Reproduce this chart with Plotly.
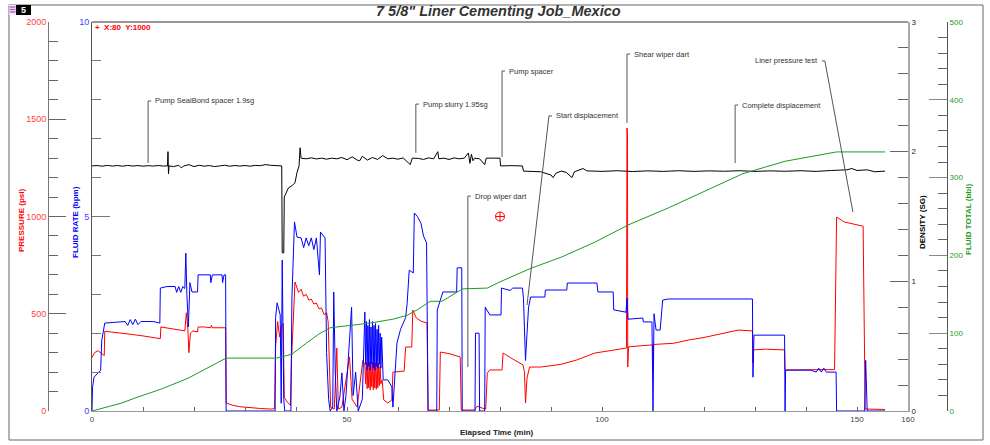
import plotly.graph_objects as go

W, H = 990, 445

# ---------------- data ----------------
pressure_t = ([0.0, 0.5, 1.2, 2.0, 2.4, 2.5, 4.0, 6.0, 8.0, 10.0, 12.0, 13.4, 13.5, 15.0, 16.5, 18.2, 18.5, 18.8,
               19.0, 19.3, 19.8, 20.7, 20.8, 22.0, 23.3, 23.4, 23.6, 26.2, 26.3, 27.5, 29.0, 31.0, 33.0, 35.0,
               35.8, 36.0, 36.4, 36.8, 37.2, 37.5, 37.7, 38.3, 38.9, 39.1, 39.4, 39.8, 40.5, 41.0, 41.5, 42.0,
               42.5, 43.0, 43.5, 44.0, 44.5, 45.0, 45.5, 46.0, 46.3, 46.6, 46.8, 47.5, 48.0, 48.3, 49.0, 49.8,
               50.5, 51.0, 52.0, 52.7, 53.1]
              + [53.5, 53.65, 53.8, 53.95, 54.1, 54.25, 54.4, 54.55, 54.7, 54.85, 55.0, 55.15, 55.3, 55.45,
                 55.6, 55.75, 55.9, 56.05, 56.2, 56.35, 56.5, 56.65, 56.9, 57.2]
              + [58.0, 58.8, 59.0, 61.2, 61.5, 62.7, 62.9, 63.6, 64.5, 65.7, 65.9, 68.1, 68.3, 70.0,
                 72.2, 72.4, 75.0, 75.5, 76.5, 77.2, 77.5, 78.0, 80.4, 80.6, 82.0, 83.5, 84.5, 84.8, 85.0, 85.3,
                 85.8, 88.0, 90.0, 92.0, 95.0, 98.6, 102.0, 104.8, 104.9, 105.0, 105.05, 105.2, 108.0, 109.9,
                 110.0, 110.1, 114.0, 117.0, 120.0, 123.0, 126.7, 129.5, 129.6, 129.7, 132.0, 135.8, 135.9,
                 140.0, 145.6, 146.0, 147.5, 149.5, 151.2, 151.6, 155.5])
pressure_psi = ([275, 300, 310, 295, 285, 410, 406, 400, 393, 386, 378, 372, 432, 426, 420, 412, 505, 420,
                 300, 400, 412, 406, 432, 432, 428, 440, 428, 428, 42, 30, 22, 16, 13, 10,
                 12, 330, 460, 380, 440, 450, 70, 45, 30, 250, 470, 663, 610, 625, 590, 600,
                 570, 575, 550, 555, 525, 530, 495, 505, 460, 200, 20, 10, 324, 10, 20, 160,
                 278, 60, 20, 175, 260]
                + [237, 140, 250, 115, 245, 120, 252, 108, 240, 125, 250, 110, 240, 118,
                   248, 112, 236, 120, 245, 130, 230, 140, 160, 57]
                + [41, 57, 200, 205, 329, 329, 519, 478, 462, 452, 5, 5, 303, 295,
                   278, 5, 5, 25, 15, 10, 195, 211, 211, 298, 275, 250, 237, 200, 41, 170,
                   226, 226, 232, 240, 262, 298, 312, 324, 1455, 1420, 226, 330, 336, 340,
                   250, 342, 348, 365, 378, 395, 416, 412, 247, 314, 318, 314, 211,
                   212, 213, 997, 972, 960, 950, 10, 8])

rate_t = ([0.0, 0.1, 0.4, 1.7, 1.9, 2.2, 2.5, 6.5, 7.0, 7.5, 8.0, 8.5, 9.0, 9.6, 12.0, 13.3, 13.4, 14.7,
           16.3, 16.6, 17.0, 17.4, 17.8, 18.2, 18.4, 18.6, 18.9, 19.2, 19.6, 20.7, 20.8, 23.2, 23.3, 23.6,
           25.5, 25.6, 25.9, 26.2, 26.3, 35.9, 36.0, 36.3, 36.9, 37.1, 37.3, 37.6, 37.8, 39.0, 39.2, 39.7,
           40.2, 41.0, 41.5, 42.0, 42.5, 43.0, 43.5, 44.0, 44.6, 44.8, 45.3, 45.7, 46.0, 46.4, 46.7, 47.2,
           47.4, 47.7, 48.0, 48.6, 49.0, 49.4, 49.8, 50.9, 51.2, 51.7, 52.2, 53.0]
          + [53.5, 53.65, 53.8, 53.95, 54.1, 54.25, 54.4, 54.55, 54.7, 54.85, 55.0, 55.15, 55.3, 55.45,
             55.6, 55.75, 55.9, 56.05, 56.2, 56.35, 56.5, 56.65, 56.8, 57.1]
          + [58.0, 58.8, 59.0, 59.8, 60.5, 61.0, 61.5, 61.8,
             62.2, 63.0, 63.2, 63.8, 64.5, 65.0, 65.6, 65.9, 67.6, 67.7, 68.8, 71.5, 71.6, 72.5, 72.6, 75.1,
             75.2, 75.9, 76.0, 77.0, 77.1, 78.0, 80.2, 80.3, 82.0, 82.5, 84.4, 84.6, 85.0, 85.3, 85.6, 86.0,
             88.8, 88.9, 93.1, 93.2, 99.0, 99.2, 102.2, 102.3, 104.7, 104.9, 105.1, 108.0, 108.1, 109.8,
             110.0, 110.2, 110.6, 111.4, 111.7, 111.9, 113.0, 129.5, 129.6, 129.8, 135.8, 135.9, 136.0,
             141.0, 142.0, 142.5, 143.0, 143.5, 144.0, 145.9, 146.0, 151.5, 151.7, 152.0, 155.5])
rate_bpm = ([0, 0.6, 0.87, 1.05, 1.8, 2.0, 2.26, 2.3, 2.2, 2.35, 2.22, 2.36, 2.22, 2.3, 2.3, 2.26, 3.16, 3.2,
             3.2, 3.05, 3.2, 3.05, 3.2, 3.15, 4.06, 3.0, 2.16, 3.3, 3.06, 3.06, 3.5, 3.5, 3.3, 3.5,
             3.5, 3.3, 3.5, 3.5, 0, 0, 2.4, 2.78, 2.47, 0.2, 3.88, 0.3, 0, 0, 2.9, 4.86,
             4.47, 4.45, 4.2, 4.45, 4.25, 4.45, 4.15, 4.45, 3.5, 4.6, 4.5, 4.45, 1.5, 0.3, 0, 0.1,
             3.06, 1.0, 0, 0.36, 0.98, 0, 0.4, 2.67, 0.4, 1.0, 0, 0.3]
            + [2.54, 1.2, 2.3, 1.05, 2.2, 1.15, 2.35, 1.05, 2.16, 1.2, 2.3, 1.1, 2.2, 1.05,
               2.25, 1.15, 2.1, 1.1, 2.2, 1.2, 2.0, 1.1, 1.9, 0.8]
            + [0.8, 0.62, 0.1, 1.75, 2.1, 2.26, 2.4, 2.78,
               3.62, 3.55, 5.09, 5.0, 4.83, 4.5, 4.32, 0, 0, 2.6, 3.06, 3.06, 3.68, 3.68, 0, 0,
               2.0, 2.0, 0, 0, 2.67, 2.47, 2.47, 3.16, 3.1, 3.16, 3.16, 2.9, 1.3, 2.0, 2.67, 2.93,
               2.93, 3.11, 3.11, 3.29, 3.29, 3.06, 3.06, 2.6, 2.54, 2.9, 2.36, 2.39, 2.29, 2.29,
               0, 2.5, 2.08, 2.08, 2.6, 2.85, 2.88, 2.88, 0.87, 1.95, 1.95, 0, 1.05,
               1.05, 1.0, 1.1, 1.0, 1.1, 1.0, 1.0, 0, 0, 1.3, 0, 0])

density_t = [0, 1, 2, 3, 4, 5, 6, 7, 8, 9, 10, 11, 12, 13, 14, 14.8, 14.9, 15.0, 15.1, 16, 17, 17.5, 18, 19,
             20, 21, 22, 23, 24, 25, 26, 27, 28, 29, 30, 31, 32, 33, 34, 35, 36, 37.2, 37.3, 37.6, 37.7,
             38.5, 39.3, 39.8, 40.2, 40.6, 40.8, 41.0, 42, 43, 44, 45, 46, 47, 48, 49, 50, 51, 52, 52.5,
             53, 54, 55, 56, 57, 58, 59, 60, 61, 62.4, 62.8, 64, 65, 66, 67, 67.8, 68.0, 69, 70, 71, 72,
             73, 73.8, 74.1, 74.4, 74.7, 75, 76, 77, 77.3, 80, 80.1, 82, 84.4, 84.6, 86, 88, 90, 90.4,
             91, 92, 93, 94.1, 94.6, 96.3, 97, 100, 103, 106, 109, 112, 115, 118, 121, 124, 127, 130,
             133, 136, 139, 142, 145, 148, 149, 150, 152, 153.5, 155.5]
density_sg = [1.89, 1.893, 1.888, 1.894, 1.889, 1.893, 1.888, 1.894, 1.889, 1.893, 1.888, 1.892, 1.889,
              1.893, 1.889, 1.89, 2.0, 1.83, 1.89, 1.885, 1.895, 1.875, 1.89, 1.9,
              1.885, 1.895, 1.888, 1.893, 1.885, 1.89, 1.895, 1.888, 1.893, 1.889, 1.893, 1.888, 1.894,
              1.892, 1.9, 1.895, 1.895, 1.89, 1.22, 1.22, 1.65,
              1.72, 1.74, 1.76, 1.84, 1.89, 2.03, 1.95, 1.945, 1.952, 1.944, 1.95, 1.942, 1.95, 1.945,
              1.955, 1.938, 1.96, 1.935, 1.93,
              1.965, 1.935, 1.955, 1.94, 1.97, 1.945, 1.95, 1.942, 1.952, 1.9, 1.95, 1.948, 1.94, 1.952,
              1.945, 2.0, 1.945, 1.95, 1.94, 1.952, 1.945,
              1.95, 1.99, 1.91, 1.98, 1.93, 1.95, 1.945, 1.9, 1.95, 1.95, 1.89, 1.892, 1.89, 1.85,
              1.848, 1.845, 1.82, 1.80,
              1.835, 1.85, 1.84, 1.80, 1.845, 1.87, 1.852, 1.848, 1.853, 1.847, 1.852, 1.848, 1.853,
              1.848, 1.852, 1.849, 1.853, 1.848,
              1.852, 1.849, 1.853, 1.848, 1.855, 1.86, 1.87, 1.855, 1.86, 1.845, 1.85]

total_t = [0, 3, 5.7, 9, 13.5, 18.8, 22.5, 26.3, 36.2, 37.5, 39.2, 42, 44.5, 46.7, 50.6, 54.5, 59, 61.8,
           64, 66.3, 68.6, 72.7, 77.5, 80, 85.9, 92.1, 98.6, 105.1, 113, 119.2, 127.6, 135.9, 146, 155.5]
total_bbl = [0, 5, 10, 18, 28, 42, 55, 68, 68, 70, 73, 87, 99, 107, 110, 113, 118, 123,
             131, 141, 141, 157, 158, 166, 183, 198, 217, 239, 261, 280, 305, 321, 333, 333]

cursor_x = [80]
cursor_y = [1000]

event_labels = ["Pump SealBond spacer 1.9sg", "Pump slurry 1.95sg", "Pump spacer", "Drop wiper dart",
                "Start displacement", "Shear wiper dart", "Complete displacement", "Liner pressure test"]
event_times = [11.0, 63.5, 80.4, 73.7, 85.3, 104.9, 126.1, 149.2]

# ---------------- layout helpers ----------------
def fx(px):
    return px / W

def fy(py):
    return 1 - py / H

XDOM = [fx(92), fx(908)]
YDOM = [fy(411), fy(22)]
FONT = "Liberation Sans, Arial, sans-serif"

# leader geometry: (top_x, top_psi, bottom_psi, text side)
leader_geo = [
    (11.0, 1594, 1275, "right"),
    (63.5, 1578, 1327, "right"),
    (80.4, 1748, 1306, "right"),
    (73.7, 1105, 226, "right"),
    (89.6, 1517, 545, "right"),
    (104.9, 1835, 1481, "right"),
    (126.1, 1573, 1275, "right"),
    (143.7, 1800, 1023, "left"),
]

fig = go.Figure()

fig.add_trace(go.Scatter(x=pressure_t, y=pressure_psi, mode="lines", yaxis="y",
                         line=dict(color="#ff0000", width=1), name="Pressure"))
fig.add_trace(go.Scatter(x=rate_t, y=rate_bpm, mode="lines", yaxis="y2",
                         line=dict(color="#0000ff", width=1), name="Rate"))
fig.add_trace(go.Scatter(x=total_t, y=total_bbl, mode="lines", yaxis="y4",
                         line=dict(color="#1f9a1f", width=1), name="Total"))
fig.add_trace(go.Scatter(x=density_t, y=density_sg, mode="lines", yaxis="y3",
                         line=dict(color="#000000", width=1), name="Density"))
fig.add_trace(go.Scatter(x=cursor_x, y=cursor_y, mode="markers", yaxis="y",
                         marker=dict(symbol="circle-cross-open", size=9, color="#ff0000",
                                     line=dict(width=1, color="#ff0000")), name="Cursor"))

shapes = []
annotations = []

# leaders
for lbl, t_ev, geo in zip(event_labels, event_times, leader_geo):
    tx, ty, by, side = geo
    shapes.append(dict(type="line", xref="x", yref="y", x0=tx, y0=ty, x1=t_ev, y1=by,
                       line=dict(color="#555555", width=1)))
    if side == "right":
        shapes.append(dict(type="line", xref="x", yref="y", x0=tx, y0=ty, x1=tx + 0.6, y1=ty,
                           line=dict(color="#555555", width=1)))
        annotations.append(dict(x=tx, y=ty, xref="x", yref="y", text=lbl, showarrow=False,
                                xanchor="left", yanchor="middle", xshift=5,
                                font=dict(family=FONT, size=7.5, color="#333333")))
    else:
        shapes.append(dict(type="line", xref="x", yref="y", x0=tx - 0.6, y0=ty, x1=tx, y1=ty,
                           line=dict(color="#555555", width=1)))
        annotations.append(dict(x=tx, y=ty, xref="x", yref="y", text=lbl, showarrow=False,
                                xanchor="right", yanchor="middle", xshift=-5,
                                font=dict(family=FONT, size=7.5, color="#333333")))

# frame lines
shapes.append(dict(type="line", xref="paper", yref="paper", x0=XDOM[0], x1=XDOM[1], y0=YDOM[1], y1=YDOM[1],
                   line=dict(color="#333333", width=1)))
shapes.append(dict(type="rect", xref="paper", yref="paper", x0=fx(9), x1=fx(983), y0=fy(440), y1=fy(5),
                   line=dict(color="#666666", width=1)))
# badge
shapes.append(dict(type="rect", xref="paper", yref="paper", x0=fx(9), x1=fx(16), y0=fy(15), y1=fy(5),
                   fillcolor="#f4eaf4", line=dict(width=0)))
for yy, col in [(7, "#c060c0"), (9.5, "#8080e0"), (12, "#c060c0")]:
    shapes.append(dict(type="line", xref="paper", yref="paper", x0=fx(9.5), x1=fx(15.5), y0=fy(yy), y1=fy(yy),
                       line=dict(color=col, width=1.5)))
shapes.append(dict(type="rect", xref="paper", yref="paper", x0=fx(16), x1=fx(31), y0=fy(15), y1=fy(5),
                   fillcolor="#000000", line=dict(width=0)))

annotations += [
    dict(x=fx(23.5), y=fy(10), xref="paper", yref="paper", text="<b>5</b>", showarrow=False,
         xanchor="center", yanchor="middle", font=dict(family=FONT, size=9, color="#ffffff")),
    dict(x=fx(498), y=fy(11), xref="paper", yref="paper",
         text="<b><i>7 5/8\" Liner Cementing Job_Mexico</i></b>", showarrow=False,
         xanchor="center", yanchor="middle", font=dict(family=FONT, size=14.5, color="#333333")),
    dict(x=fx(93), y=fy(28), xref="paper", yref="paper", text="<b>+  X:80  Y:1000</b>", showarrow=False,
         xanchor="left", yanchor="middle", font=dict(family=FONT, size=8, color="#ff0000")),
    dict(x=fx(21), y=fy(221), xref="paper", yref="paper", text="<b>PRESSURE (psi)</b>", showarrow=False,
         textangle=-90, xanchor="center", yanchor="middle", font=dict(family=FONT, size=8, color="#ff0000")),
    dict(x=fx(75), y=fy(222), xref="paper", yref="paper", text="<b>FLUID RATE (bpm)</b>", showarrow=False,
         textangle=-90, xanchor="center", yanchor="middle", font=dict(family=FONT, size=8, color="#0000ff")),
    dict(x=fx(922), y=fy(222), xref="paper", yref="paper", text="<b>DENSITY (SG)</b>", showarrow=False,
         textangle=-90, xanchor="center", yanchor="middle", font=dict(family=FONT, size=8, color="#000000")),
    dict(x=fx(968), y=fy(220), xref="paper", yref="paper", text="<b>FLUID TOTAL (bbl)</b>", showarrow=False,
         textangle=-90, xanchor="center", yanchor="middle", font=dict(family=FONT, size=8, color="#1f9a1f")),
    dict(x=fx(497), y=fy(432), xref="paper", yref="paper", text="<b>Elapsed Time (min)</b>", showarrow=False,
         xanchor="center", yanchor="middle", font=dict(family=FONT, size=8, color="#222222")),
]

x_ticks = list(range(0, 161, 10))
x_text = [str(v) if v in (0, 50, 100, 150, 160) else "" for v in x_ticks]

fig.update_layout(
    width=W, height=H, autosize=False,
    margin=dict(l=0, r=0, t=0, b=0, pad=0, autoexpand=False),
    paper_bgcolor="#ffffff", plot_bgcolor="#ffffff",
    showlegend=False,
    font=dict(family=FONT, size=9),
    xaxis=dict(domain=XDOM, range=[0, 160], anchor="y", showline=True, linecolor="#999999", linewidth=1,
               ticks="inside", ticklen=4, tickcolor="#666666", tickvals=x_ticks, ticktext=x_text,
               tickfont=dict(size=8, color="#444444"), showgrid=False, zeroline=False, automargin=False),
    yaxis=dict(domain=YDOM, range=[0, 2000], anchor="free", position=fx(48), side="left",
               showline=True, linecolor="#777777", ticks="inside", ticklen=17, tickcolor="#666666",
               tickvals=[0, 500, 1000, 1500, 2000],
               minor=dict(ticks="inside", ticklen=9, dtick=100, tickcolor="#666666"),
               tickfont=dict(size=9, color="#ff4040"), showgrid=False, zeroline=False, automargin=False),
    yaxis2=dict(domain=YDOM, range=[0, 10], overlaying="y", anchor="x", side="left",
                showline=True, linecolor="#555555", ticks="inside", ticklen=18, tickcolor="#777777",
                tickvals=[0, 5, 10], minor=dict(ticks="inside", ticklen=9, dtick=1, tickcolor="#777777"),
                tickfont=dict(size=9, color="#4040ff"), showgrid=False, zeroline=False, automargin=False),
    yaxis3=dict(domain=YDOM, range=[0, 3], overlaying="y", anchor="x", side="right",
                showline=True, linecolor="#aaaaaa", linewidth=2, ticks="inside", ticklen=18,
                tickcolor="#666666", tickvals=[0, 1, 2, 3],
                minor=dict(ticks="inside", ticklen=10, dtick=0.2, tickcolor="#666666"),
                tickfont=dict(size=8, color="#222222"), showgrid=False, zeroline=False, automargin=False),
    yaxis4=dict(domain=YDOM, range=[0, 500], overlaying="y", anchor="free", position=fx(947), side="right",
                showline=True, linecolor="#555555", ticks="inside", ticklen=18, tickcolor="#888888",
                tickvals=[0, 100, 200, 300, 400, 500],
                minor=dict(ticks="inside", ticklen=9, dtick=20, tickcolor="#666666"),
                tickfont=dict(size=8, color="#1f9a1f"), showgrid=False, zeroline=False, automargin=False),
    shapes=shapes,
    annotations=annotations,
)

fig.write_html("out.html", config={"displayModeBar": False, "responsive": False},
               post_script="document.body.style.margin='0';")
